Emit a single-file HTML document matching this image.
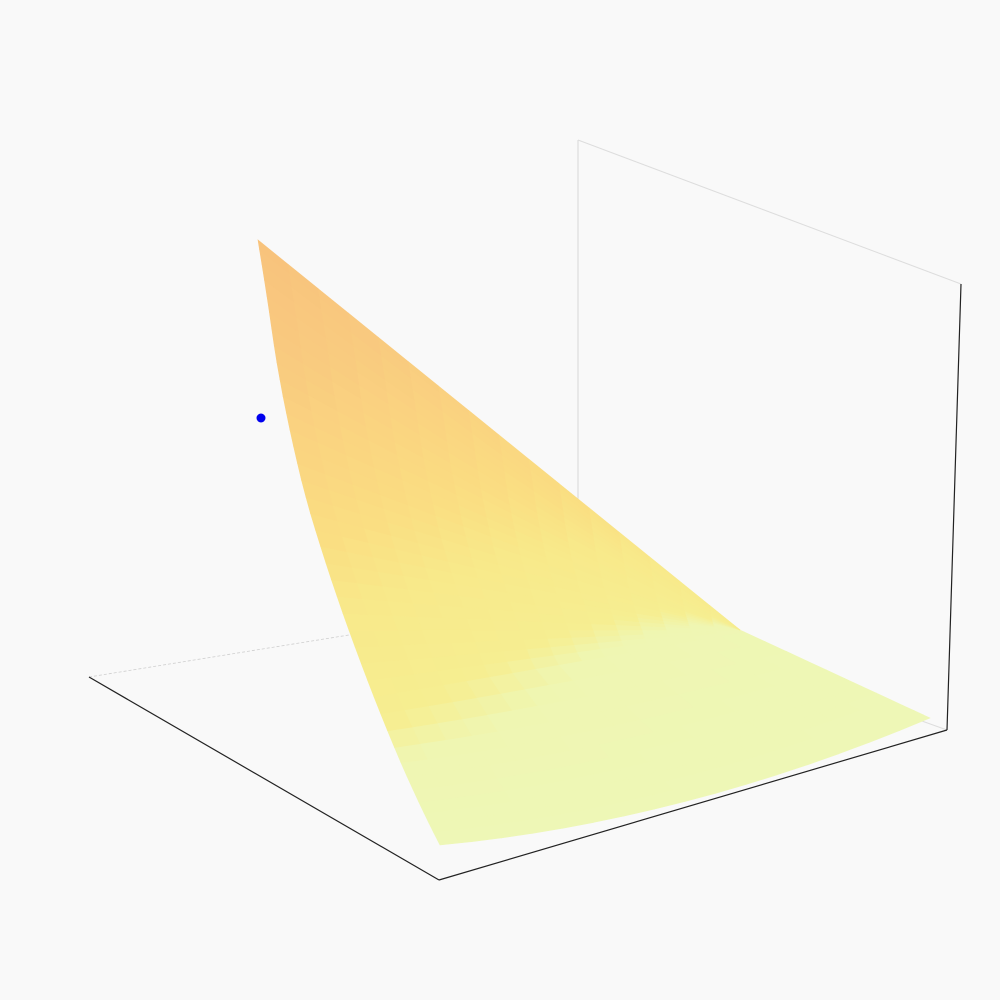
<!DOCTYPE html>
<html><head><meta charset="utf-8"><style>
html,body{margin:0;padding:0;background:#f9f9f9;}
svg{display:block;}
</style></head><body>
<svg id="chart" width="1000" height="1000" viewBox="0 0 1000 1000">
<rect x="0" y="0" width="1000" height="1000" fill="#f9f9f9"/>
<g id="axes">
<line x1="89" y1="677" x2="578" y2="598" stroke="#cfcfcf" stroke-width="0.8" stroke-dasharray="3,2"/>
<line x1="578" y1="598" x2="578" y2="140" stroke="#d8d8d8" stroke-width="1"/>
<line x1="578" y1="140" x2="961" y2="284" stroke="#dddddd" stroke-width="1"/>
<line x1="578" y1="598" x2="947" y2="730" stroke="#dddddd" stroke-width="1"/>
<line x1="961" y1="284" x2="947" y2="730" stroke="#222" stroke-width="1.2"/>
<line x1="89" y1="677" x2="439" y2="880" stroke="#222" stroke-width="1.2"/>
<line x1="439" y1="880" x2="947" y2="730" stroke="#222" stroke-width="1.2"/>
</g>
<g id="surface"></g>
<circle cx="261" cy="418" r="4.5" fill="#0000ee"/>
</svg>
<script>
// surface rows: left-edge screen x and normalized height (read from left boundary)
const rowX = [440, 424, 401, 374, 349, 326, 306, 290, 277, 267, 258];
const rowZ = [0.000, 0.053, 0.136, 0.245, 0.355, 0.466, 0.575, 0.686, 0.797, 0.907, 1.000];
const colorStops = [[0, [238,247,182]], [0.14, [239,246,178]], [0.2, [246,238,145]], [0.38, [248,233,138]], [0.5, [250,222,130]], [0.65, [250,212,128]], [0.8, [249,202,127]], [1, [248,194,124]]];

const NS = 'http://www.w3.org/2000/svg';
const g = document.getElementById('surface');
function yOf(z){ return 845 - 605*z; }
function colorOf(z){
  z=Math.max(0,Math.min(1,z));
  for(let i=1;i<colorStops.length;i++){
    if(z<=colorStops[i][0]){
      const a=colorStops[i-1], b=colorStops[i];
      const f=(z-a[0])/(b[0]-a[0]);
      return 'rgb('+a[1].map((v,k)=>Math.round(v+(b[1][k]-v)*f)).join(',')+')';
    }
  }
  return 'rgb(248,194,124)';
}
function rightEnd(z){
  if(z>=0.25) return [740,630];
  const f=z/0.25;
  return [930-190*f, 718-88*f];
}
function cr(arr,i,u){
  const n=arr.length;
  const p0=arr[Math.max(0,i-1)], p1=arr[i], p2=arr[Math.min(n-1,i+1)], p3=arr[Math.min(n-1,i+2)];
  return 0.5*((2*p1)+(-p0+p2)*u+(2*p0-5*p1+4*p2-p3)*u*u+(-p0+3*p1-3*p2+p3)*u*u*u);
}
// smooth sub-rows along the left boundary
const SUB=4, rows=[];
for(let i=0;i<rowX.length-1;i++){
  for(let s=0;s<SUB;s++){ const u=s/SUB; rows.push([cr(rowX,i,u), cr(rowZ,i,u)]); }
}
rows.push([rowX[rowX.length-1], rowZ[rowZ.length-1]]);
function pt(r, t){
  const x0=r[0], z=r[1];
  const L = [x0, yOf(z)];
  const R = rightEnd(z);
  const sag = 20*Math.max(0,1-z/0.25)*4*t*(1-t);
  return [L[0]+(R[0]-L[0])*t, L[1]+(R[1]-L[1])*t + sag];
}
const NT = 16;
for(let i=0;i<rows.length-1;i++){
  for(let j=0;j<NT;j++){
    const t0=j/NT, t1=(j+1)/NT;
    const p=[pt(rows[i],t0),pt(rows[i],t1),pt(rows[i+1],t1),pt(rows[i+1],t0)];
    const poly=document.createElementNS(NS,'polygon');
    poly.setAttribute('points', p.map(q=>q[0].toFixed(1)+','+q[1].toFixed(1)).join(' '));
    const zm=(rows[i][1]+rows[i+1][1])/2, tm=(t0+t1)/2;
    const c=colorOf(zm*(1-0.75*tm));
    poly.setAttribute('fill', c);
    poly.setAttribute('stroke', c);
    poly.setAttribute('stroke-width', '0.6');
    
    
    g.appendChild(poly);
  }
}
</script>
</body></html>
